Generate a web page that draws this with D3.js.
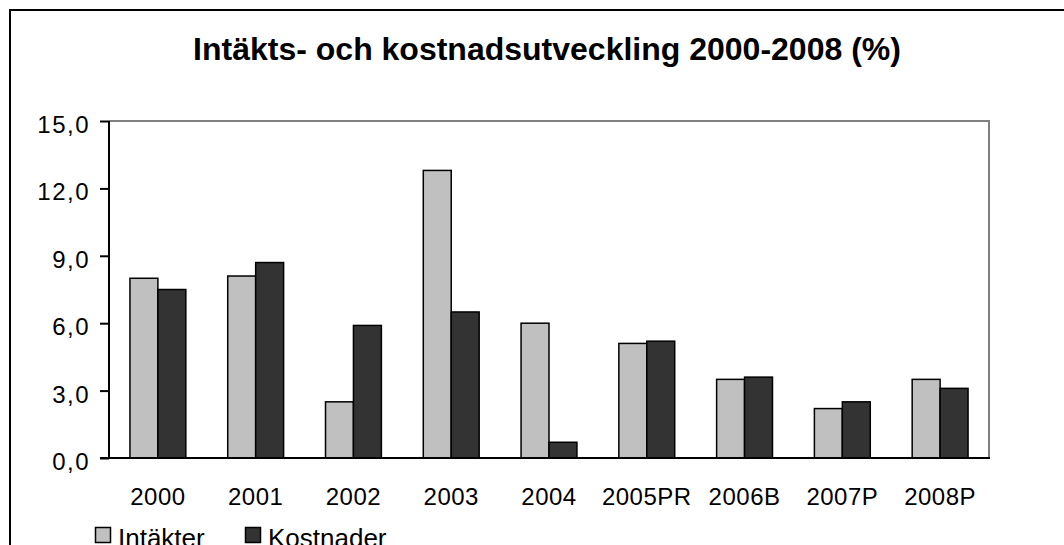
<!DOCTYPE html>
<html><head><meta charset="utf-8">
<script src="https://cdn.jsdelivr.net/npm/d3@7"></script>
<style>
body{margin:0;background:#fff;overflow:hidden;}
text{font-family: Arial, "Liberation Sans", sans-serif;fill:#000;}
</style>
</head><body><svg id="c" width="1064" height="545"></svg>
<script>
const categories = ["2000","2001","2002","2003","2004","2005PR","2006B","2007P","2008P"];
const intakter  = [8.0, 8.1, 2.5, 12.8, 6.0, 5.1, 3.5, 2.2, 3.5];
const kostnader = [7.5, 8.7, 5.9, 6.5, 0.7, 5.2, 3.6, 2.5, 3.1];
const seriesNames = ["Intäkter","Kostnader"];
const seriesColors = ["#c0c0c0","#333333"];
const yTicks = [0, 3, 6, 9, 12, 15];
const title = "Intäkts- och kostnadsutveckling 2000-2008 (%)";

const svg = d3.select("#c");
const L = 109, R = 989, T = 121, B = 458;

// outer frame
svg.append("rect").attr("x",10).attr("y",10).attr("width",1100).attr("height",600)
  .attr("fill","#fff").attr("stroke","#000").attr("stroke-width",2);

svg.append("text").attr("x",547).attr("y",60).attr("text-anchor","middle")
  .attr("font-size",32).attr("font-weight","bold").text(title);

const x0 = d3.scaleBand().domain(categories).range([L,R]).padding(0);
const x1 = d3.scaleBand().domain(seriesNames).range([0,x0.bandwidth()]).paddingInner(0).paddingOuter(0.75);
const y = d3.scaleLinear().domain([0,15]).range([B,T]);

// plot border (top, right)
svg.append("path").attr("d",`M${L},${T}H${R}V${B}`).attr("fill","none")
  .attr("stroke","#808080").attr("stroke-width",2);

const data = categories.map((c,i)=>({c, vals:[intakter[i],kostnader[i]]}));
const g = svg.append("g");
data.forEach(d=>{
  d.vals.forEach((v,j)=>{
    g.append("rect")
      .attr("x", x0(d.c)+x1(seriesNames[j]))
      .attr("y", y(v))
      .attr("width", x1.bandwidth())
      .attr("height", y(0)-y(v))
      .attr("fill", seriesColors[j]).attr("stroke","#000").attr("stroke-width",1.5);
  });
});

// y axis
const yAxis = d3.axisLeft(y).tickValues(yTicks).tickSize(9).tickPadding(10)
  .tickFormat(d=>d3.format(".1f")(d).replace(".",","));
const ya = svg.append("g").attr("transform",`translate(${L},0)`).call(yAxis);
ya.select(".domain").attr("stroke","#000").attr("stroke-width",2).attr("d",`M0,${T}V${B}`);
ya.selectAll(".tick line").attr("stroke","#000").attr("stroke-width",2);
ya.selectAll(".tick text").attr("font-size",24).attr("font-family","Arial, 'Liberation Sans', sans-serif")
  .attr("letter-spacing","1.5px")
  .attr("fill","#000").attr("dy","0.48em");

// x axis
const xAxis = d3.axisBottom(x0).tickSize(0).tickPadding(30);
const xa = svg.append("g").attr("transform",`translate(0,${B})`).call(xAxis);
xa.select(".domain").attr("stroke","#000").attr("stroke-width",2).attr("d",`M${L-9},0H${R+1}`);
xa.selectAll(".tick text").attr("font-size",24).attr("font-family","Arial, 'Liberation Sans', sans-serif")
  .attr("letter-spacing","0.5px")
  .attr("fill","#000").attr("dy","0.71em");

// legend
const leg = svg.append("g");
const legX = [95, 245];
seriesNames.forEach((n,j)=>{
  leg.append("rect").attr("x",legX[j]+0.5).attr("y",527.5).attr("width",15).attr("height",15)
    .attr("fill",seriesColors[j]).attr("stroke","#000").attr("stroke-width",1.5);
  leg.append("text").attr("x",legX[j]+23).attr("y",547).attr("font-size",26).text(n);
});
</script>
</body></html>
